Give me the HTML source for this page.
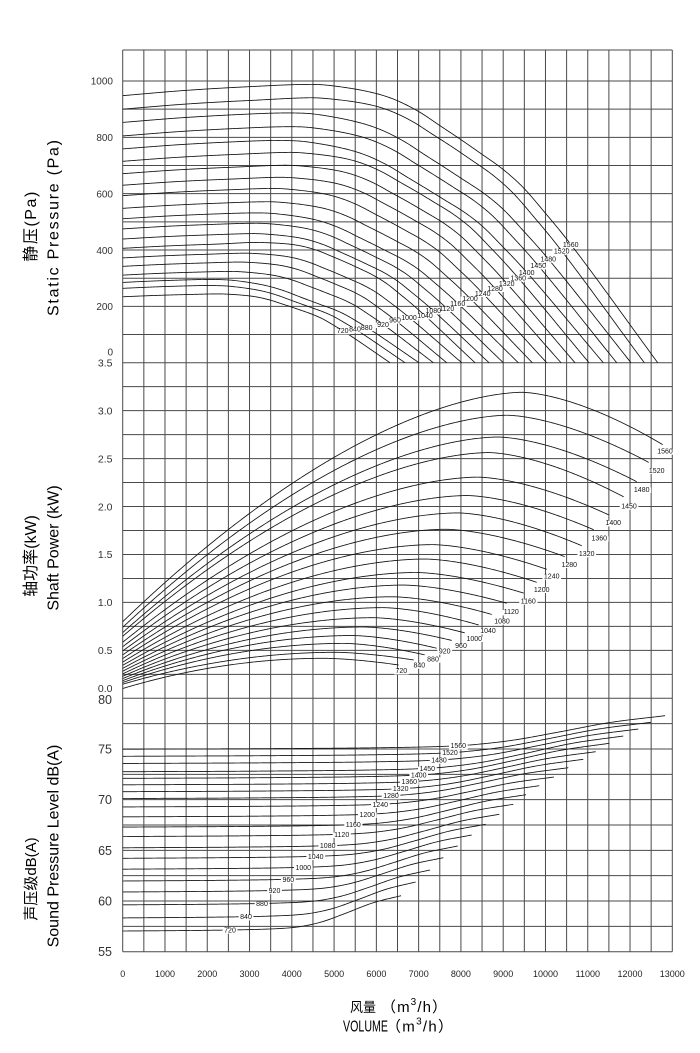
<!DOCTYPE html>
<html><head><meta charset="utf-8"><style>
html,body{margin:0;padding:0;background:#fff;}
svg{display:block;}
.tk{font-family:"Liberation Sans",sans-serif;fill:#333;text-anchor:end;}
.xt{font-family:"Liberation Sans",sans-serif;fill:#222;text-anchor:middle;font-size:9px;}
.lb{font-family:"Liberation Sans",sans-serif;font-size:7px;fill:#111;text-anchor:middle;}
.ti{font-family:"Liberation Sans","Noto Sans CJK SC",sans-serif;fill:#000;text-anchor:middle;}
</style></head><body>
<svg id="c" xmlns="http://www.w3.org/2000/svg" width="700" height="1053" viewBox="0 0 700 1053">
<rect width="700" height="1053" fill="#fff"/>
<g id="grid" stroke="#4a4a4a" stroke-width="1" fill="none"></g>
<g id="curves" stroke="#111" stroke-width="0.85" fill="none" stroke-linejoin="round"></g>
<g id="masks" fill="#fff"></g>

<!-- pressure curve labels -->
<g class="lb">
<text class="lb" x="342.7" y="333.2">720</text>
<text class="lb" x="355" y="331.5">840</text>
<text class="lb" x="366.7" y="329.8">880</text>
<text class="lb" x="383" y="326.8">920</text>
<text class="lb" x="395" y="322.5">960</text>
<text class="lb" x="409" y="319.8">1000</text>
<text class="lb" x="425" y="318.2">1040</text>
<text class="lb" x="433.3" y="313.2">1080</text>
<text class="lb" x="446.7" y="310.8">1120</text>
<text class="lb" x="457.7" y="305.8">1160</text>
<text class="lb" x="470" y="300.8">1200</text>
<text class="lb" x="482.7" y="295.8">1240</text>
<text class="lb" x="495" y="290.8">1280</text>
<text class="lb" x="506.7" y="285.8">1320</text>
<text class="lb" x="518.3" y="280.5">1360</text>
<text class="lb" x="526.7" y="274.8">1400</text>
<text class="lb" x="538.3" y="268.2">1450</text>
<text class="lb" x="548.3" y="261.5">1480</text>
<text class="lb" x="561.7" y="253.5">1520</text>
<text class="lb" x="570.7" y="246.8">1560</text>
</g>
<!-- power curve labels -->
<g class="lb">
<text class="lb" x="401.3" y="673.2">720</text>
<text class="lb" x="419.3" y="667.5">840</text>
<text class="lb" x="433" y="661.5">880</text>
<text class="lb" x="444.7" y="653.5">920</text>
<text class="lb" x="461" y="648.2">960</text>
<text class="lb" x="474.3" y="640.8">1000</text>
<text class="lb" x="488" y="633.2">1040</text>
<text class="lb" x="502" y="623.5">1080</text>
<text class="lb" x="511.3" y="614.2">1120</text>
<text class="lb" x="528.3" y="603.5">1160</text>
<text class="lb" x="541.7" y="591.8">1200</text>
<text class="lb" x="551.7" y="578.5">1240</text>
<text class="lb" x="569.3" y="566.8">1280</text>
<text class="lb" x="586.7" y="556.2">1320</text>
<text class="lb" x="599.3" y="540.5">1360</text>
<text class="lb" x="613.3" y="525.2">1400</text>
<text class="lb" x="629" y="508.5">1450</text>
<text class="lb" x="641.7" y="491.8">1480</text>
<text class="lb" x="656.7" y="472.8">1520</text>
<text class="lb" x="665" y="453.5">1560</text>
</g>
<!-- sound curve labels -->
<g class="lb">
<text class="lb" x="230" y="932.5">720</text>
<text class="lb" x="246" y="919.2">840</text>
<text class="lb" x="262" y="906">880</text>
<text class="lb" x="274.5" y="893">920</text>
<text class="lb" x="288.3" y="881.8">960</text>
<text class="lb" x="303.3" y="869.8">1000</text>
<text class="lb" x="315.7" y="858.8">1040</text>
<text class="lb" x="327.7" y="848.2">1080</text>
<text class="lb" x="341.7" y="836.8">1120</text>
<text class="lb" x="353.3" y="827.2">1160</text>
<text class="lb" x="367.3" y="816.8">1200</text>
<text class="lb" x="380.3" y="806.8">1240</text>
<text class="lb" x="391" y="798.2">1280</text>
<text class="lb" x="400.7" y="791.2">1320</text>
<text class="lb" x="409.3" y="784.2">1360</text>
<text class="lb" x="418.7" y="777.5">1400</text>
<text class="lb" x="427.3" y="770.8">1450</text>
<text class="lb" x="439" y="762.5">1480</text>
<text class="lb" x="450" y="755.2">1520</text>
<text class="lb" x="458.3" y="748.2">1560</text>
</g>

<!-- pressure ticks -->
<g class="tk" font-size="10">
<text x="113" y="84.5">1000</text>
<text x="113" y="141.2">800</text>
<text x="113" y="197.5">600</text>
<text x="113" y="253.8">400</text>
<text x="113" y="310.2">200</text>
<text x="113" y="355.5">0</text>
</g>
<!-- power ticks -->
<g class="tk" font-size="10.5">
<text x="112.5" y="366.4">3.5</text>
<text x="112.5" y="414.7">3.0</text>
<text x="112.5" y="462.3">2.5</text>
<text x="112.5" y="510.3">2.0</text>
<text x="112.5" y="558.2">1.5</text>
<text x="112.5" y="606.2">1.0</text>
<text x="112.5" y="654.1">0.5</text>
<text x="112.5" y="692">0.0</text>
</g>
<!-- sound ticks -->
<g class="tk" font-size="12.5">
<text x="112" y="703.8">80</text>
<text x="112" y="753.4">75</text>
<text x="112" y="804.1">70</text>
<text x="112" y="854.8">65</text>
<text x="112" y="905.4">60</text>
<text x="112" y="956">55</text>
</g>
<!-- x ticks -->
<g class="xt">
<text x="122.7" y="977">0</text>
<text x="165" y="977">1000</text>
<text x="207.3" y="977">2000</text>
<text x="249.5" y="977">3000</text>
<text x="291.8" y="977">4000</text>
<text x="334.1" y="977">5000</text>
<text x="376.4" y="977">6000</text>
<text x="418.7" y="977">7000</text>
<text x="460.9" y="977">8000</text>
<text x="503.2" y="977">9000</text>
<text x="545.5" y="977">10000</text>
<text x="587.8" y="977">11000</text>
<text x="630" y="977">12000</text>
<text x="672.3" y="977">13000</text>
</g>

<!-- axis titles -->
<text class="ti" transform="translate(36,226.7) rotate(-90)" font-size="16" textLength="70" lengthAdjust="spacing">静压(Pa)</text>
<text class="ti" transform="translate(58.5,228) rotate(-90)" font-size="16" textLength="176" lengthAdjust="spacing">Static Pressure (Pa)</text>
<text class="ti" transform="translate(36,556) rotate(-90)" font-size="16">轴功率(kW)</text>
<text class="ti" transform="translate(58.5,548) rotate(-90)" font-size="16">Shaft Power (kW)</text>
<text class="ti" transform="translate(36,879) rotate(-90)" font-size="15">声压级dB(A)</text>
<text class="ti" transform="translate(58.5,846) rotate(-90)" font-size="16">Sound Pressure Level dB(A)</text>

<text x="350" y="1012" font-size="13.5" fill="#000" font-family="'Noto Sans CJK SC',sans-serif" textLength="26" lengthAdjust="spacingAndGlyphs">风量</text>
<text x="381" y="1012" font-size="15" fill="#000" font-family="'Liberation Sans','Noto Sans CJK SC',sans-serif" textLength="66" lengthAdjust="spacing">（m<tspan dy="-7" font-size="10">3</tspan><tspan dy="7">/h）</tspan></text>
<text x="343" y="1031.7" font-size="16" fill="#000" font-family="'Liberation Sans',sans-serif" textLength="45" lengthAdjust="spacingAndGlyphs">VOLUME</text>
<text x="386" y="1031.7" font-size="15" fill="#000" font-family="'Liberation Sans','Noto Sans CJK SC',sans-serif" textLength="67" lengthAdjust="spacing">（m<tspan dy="-7" font-size="10">3</tspan><tspan dy="7">/h）</tspan></text>
</svg>
<script>
(function(){
const NS='http://www.w3.org/2000/svg';
function el(tag,attrs,parent){const e=document.createElementNS(NS,tag);for(const k in attrs)e.setAttribute(k,attrs[k]);parent.appendChild(e);return e;}
const L=122.7,R=672.3,T=50,B=951.7;
const grid=document.getElementById('grid');
let d='';
for(let k=0;k<=26;k++){const x=L+k*(R-L)/26;d+='M'+x.toFixed(2)+' '+T+'V'+B;}
d+='M'+L+' '+T+'H'+R;
for(let k=0;k<=10;k++){const y=81+k*(362.7-81)/10;d+='M'+L+' '+y.toFixed(2)+'H'+R;}
for(let k=1;k<=14;k++){const y=362.7+k*(698.3-362.7)/14;d+='M'+L+' '+y.toFixed(2)+'H'+R;}
for(let k=1;k<=10;k++){const y=698.3+k*(951.7-698.3)/10;d+='M'+L+' '+y.toFixed(2)+'H'+R;}
el('path',{d:d},grid);

function mono(P){
 const n=P.length,xs=P.map(p=>p[0]),ys=P.map(p=>p[1]),dd=[],m=new Array(n);
 for(let i=0;i<n-1;i++)dd[i]=(ys[i+1]-ys[i])/(xs[i+1]-xs[i]);
 m[0]=dd[0];m[n-1]=dd[n-2];
 for(let i=1;i<n-1;i++)m[i]=(dd[i-1]*dd[i]<=0)?0:(dd[i-1]+dd[i])/2;
 for(let i=0;i<n-1;i++){if(dd[i]===0){m[i]=0;m[i+1]=0;continue;}const a=m[i]/dd[i],b=m[i+1]/dd[i],s=a*a+b*b;if(s>9){const t=3/Math.sqrt(s);m[i]=t*a*dd[i];m[i+1]=t*b*dd[i];}}
 return function(x){if(x<=xs[0])return ys[0];if(x>=xs[n-1])return ys[n-1];let i=0;while(x>xs[i+1])i++;const h=xs[i+1]-xs[i],t=(x-xs[i])/h,t2=t*t,t3=t2*t;return(2*t3-3*t2+1)*ys[i]+(t3-2*t2+t)*h*m[i]+(-2*t3+3*t2)*ys[i+1]+(t3-t2)*h*m[i+1];};
}
function sstep(a,b,x){let t=(x-a)/(b-a);t=Math.max(0,Math.min(1,t));return t*t*(3-2*t);}
const cg=document.getElementById('curves');
function draw(pts){el('path',{d:'M'+pts.map(p=>p[0].toFixed(2)+' '+p[1].toFixed(2)).join('L')},cg);}

const speeds=[720,840,880,920,960,1000,1040,1080,1120,1160,1200,1240,1280,1320,1360,1400,1450,1480,1520,1560];

/* pressure */
const pEnd=[390,405,419,433.3,446.7,461.7,475,489,503.3,518.3,532.3,546.7,561,575,589,603.3,616.7,631,644.3,657.7];
const pStart=[234,264,285,311,342,372,406,439,475,511,548,593,630,671,715,759,805,853,900,948];
const pLab=[[342.7,330.7],[355,329],[366.7,327.3],[383,324.3],[395,320],[409,317.3],[425,315.7],[433.3,310.7],[446.7,308.3],[457.7,303.3],[470,298.3],[482.7,293.3],[495,288.3],[506.7,283.3],[518.3,278],[526.7,272.3],[538.3,265.7],[548.3,259],[561.7,251],[570.7,244.3]];
const base=mono([[0,267],[62.3,272.2],[127.3,276],[190.3,278.4],[212.3,276.8],[254.3,269.4],[274.3,262.7],[297.3,251],[317.3,237.7],[337.3,224.4],[357.3,210.5],[380.3,194],[400.3,176],[422.3,150.5],[444,124],[535,0]]);
for(let i=0;i<20;i++){
 const E=pEnd[i]-L,kx=E/535,kys=pStart[i]*0.2817/267;
 const lx=pLab[i][0],ly=pLab[i][1];const uL=Math.min(528,(lx-L)/kx);const kyl=(362.7-ly)/base(uL);
 const pts=[];
 for(let rx=0;rx<E;rx+=1){const u=Math.min(535,rx/kx);const w=sstep(0.25,0.7,u/535);const ky=kys+(kyl-kys)*w;pts.push([L+rx,362.7-ky*base(u)]);}
 pts.push([pEnd[i],362.7]);
 draw(pts);
}

/* power */
const wEnd=[398.7,413.7,425.3,437,452,465.3,478.7,492,507,524.3,536.7,546.7,565,581.7,594.3,609,624,636.7,649.3,663.3];
const wEndY=[665,660,655,648.3,640.5,633,625,614.5,603.3,593.3,582.3,569.3,556.7,545.7,530,515,497,481.7,462.7,445];
for(let i=0;i<20;i++){
 const n=speeds[i],r=Math.pow(n/1560,3);
 const s=76.6*r+2.5*(1-r);
 const p=i===0?40:(i===1?46:306*r);
 const e=698.3-wEndY[i];
 const tp=i===19?0.738:0.73;
 const m=1.67+0.33*(1560-n)/840;
 const E=wEnd[i]-L;const pts=[];
 for(let rx=0;rx<=E+0.001;rx+=1){const t=Math.min(1,rx/E);let ry;
  if(t<tp){const u=t/tp;ry=s+(p-s)*(1-Math.pow(1-u,m));}else{const v=(t-tp)/(1-tp);ry=p-(p-e)*Math.pow(v,1.6);}
  pts.push([L+rx,698.3-ry]);}
 draw(pts);
}

/* sound */
const sEnd=[[401,895.7],[415.7,882],[430,870],[443.3,857.7],[457.7,846],[471.7,835],[485.7,824.3],[499.3,814.3],[513.3,804.3],[526,794.7],[539.3,785.7],[554,777],[568.3,767.7],[583.3,759.3],[595.7,751.7],[609.3,743.3],[623.3,736],[638.3,729],[651,722.3],[665,715.7]];
const sLab=[[230,930],[246,916.7],[262,903.5],[274.5,890.5],[288.3,879.3],[303.3,867.3],[315.7,856.3],[327.7,845.7],[341.7,834.3],[353.3,824.7],[367.3,814.3],[380.3,804.3],[391,795.7],[400.7,788.7],[409.3,781.7],[418.7,775],[427.3,768.3],[439,760],[450,752.7],[458.3,745.7]];
const g=mono([[0,0],[0.3,0.02],[0.5,0.05],[0.6,0.09],[0.65,0.14],[0.72,0.27],[0.8,0.5],[0.9,0.8],[1,1]]);
for(let i=0;i<20;i++){
 const xe=sEnd[i][0],ye=sEnd[i][1],lx=sLab[i][0],ly=sLab[i][1];
 const E=xe-L;const tL=(lx-L)/E;const gl=g(tL);const y0=(ly-gl*ye)/(1-gl);
 const pts=[];
 for(let rx=0;rx<=E+0.001;rx+=1.5){const t=Math.min(1,rx/E);pts.push([L+rx,y0+(ye-y0)*g(t)]);}
 pts.push([xe,ye]);
 draw(pts);
}

/* label masks */
const mg=document.getElementById('masks');
document.querySelectorAll('text.lb').forEach(function(t){
 try{const b=t.getBBox();el('rect',{x:(b.x-1.5).toFixed(2),y:(b.y+0.8).toFixed(2),width:(b.width+3).toFixed(2),height:Math.max(0,b.height-1.6).toFixed(2)},mg);}catch(e){}
});
})();
</script>
</body></html>
